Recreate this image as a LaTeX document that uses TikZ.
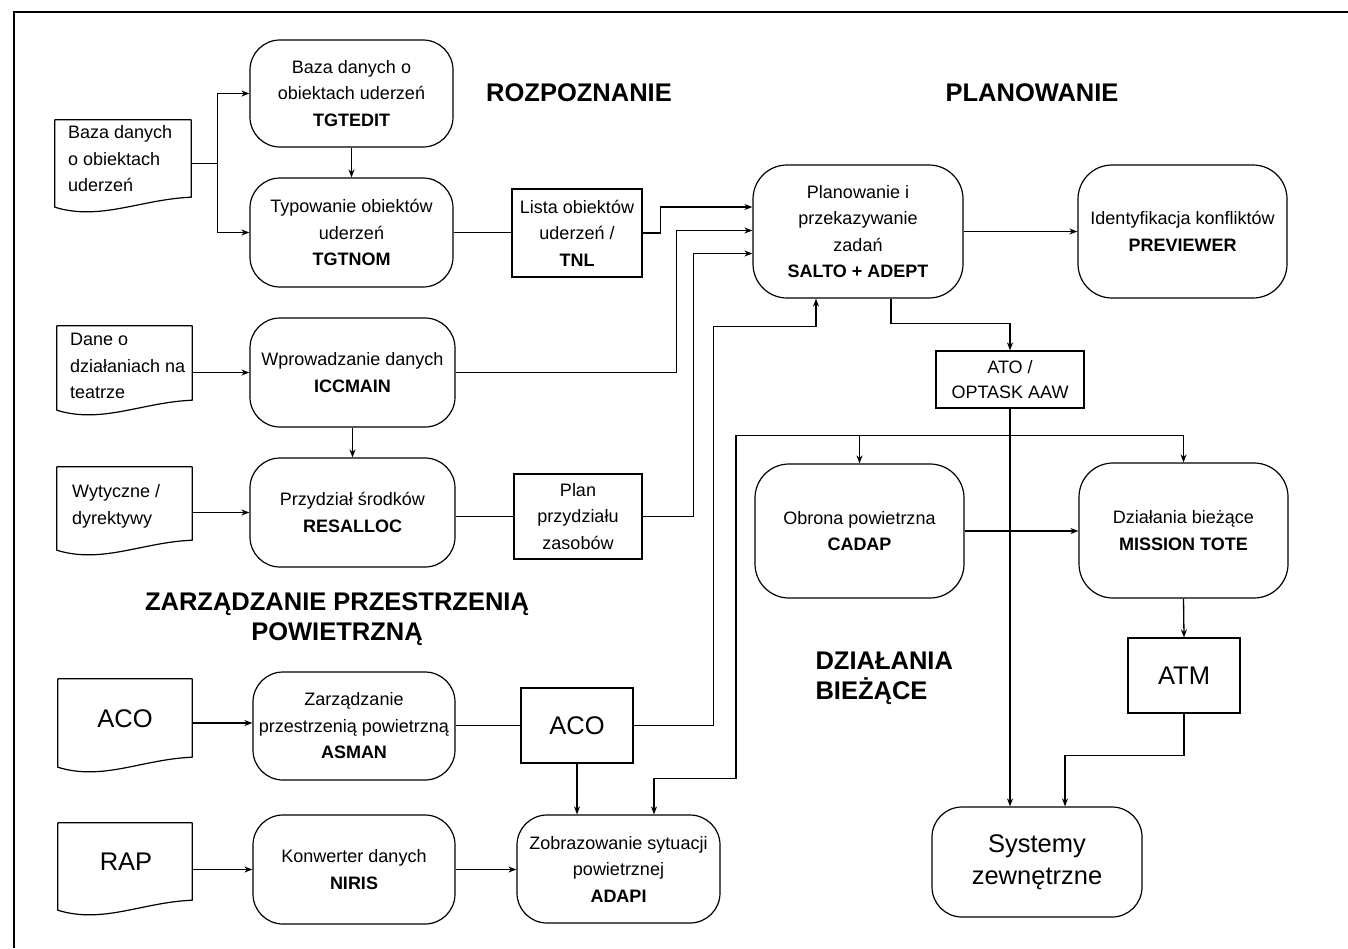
\documentclass[tikz,border=0pt]{standalone}
\usepackage{fontspec}
\setmainfont{Liberation Sans}
\usetikzlibrary{arrows.meta,calc}
\newcommand\docshape[1]{\draw[line width=1.2pt,line join=round] (#1.south west) -- (#1.north west) -- (#1.north east) -- ($(#1.south east)+(0,-10)$) .. controls +(-50,2) and +(45,14) .. (#1.south west) -- cycle;}
\begin{document}
\begin{tikzpicture}[x=1pt,y=-1pt,
  every node/.style={font=\fontsize{18}{26.5}\selectfont},
  rbox/.style={draw, line width=1.2pt, rounded corners=30pt, align=center, inner sep=0pt},
  sbox/.style={draw, line width=1.2pt, align=center, inner sep=0pt},
  docbox/.style={inner sep=0pt},
  doctext/.style={align=left, anchor=west, inner sep=0pt},
  conn/.style={line width=1.3pt},
  arr/.style={conn, -{Stealth[length=8pt,width=6pt]}},
  title/.style={font=\fontsize{25.5}{30}\selectfont\bfseries},
  big/.style={font=\fontsize{25.5}{32}\selectfont}]
\useasboundingbox (0,0) rectangle (1348,948);
\draw[line width=2.5pt] (14,948) -- (14,12) -- (1348,12);

% titles
\node[title] (t1) at (579,93) {ROZPOZNANIE};
\node[title] (t2) at (1032,93) {PLANOWANIE};
\node[title, align=center] (t3) at (337,619) {ZARZĄDZANIE PRZESTRZENIĄ\\POWIETRZNĄ};
\node[title, align=left, anchor=west] (t4) at (812,678) {DZIAŁANIA\\BIEŻĄCE};

% document shapes
\node[docbox, minimum width=136, minimum height=87] (d1) at (123,163.5) {};
\node[doctext] (d1t) at (68,159) {Baza danych\\o obiektach\\uderzeń};
\node[docbox, minimum width=135, minimum height=84] (d2) at (124.5,368) {};
\node[doctext] (d2t) at (70,366) {Dane o\\działaniach na\\teatrze};
\node[docbox, minimum width=135, minimum height=83] (d3) at (124.5,508.5) {};
\node[doctext] (d3t) at (72,506.5) {Wytyczne /\\dyrektywy};
\node[docbox, minimum width=134, minimum height=88] (d4) at (125,723) {};
\node[big] (d4t) at (125,719) {ACO};
\node[docbox, minimum width=134, minimum height=87] (d5) at (125,866.5) {};
\node[big] (d5t) at (126,862) {RAP};
\docshape{d1}
\docshape{d2}
\docshape{d3}
\docshape{d4}
\docshape{d5}

% rounded boxes
\node[rbox, minimum width=203, minimum height=107] (r1) at (351.5,93.5) {Baza danych o\\obiektach uderzeń\\\textbf{TGTEDIT}};
\node[rbox, minimum width=203, minimum height=109] (r2) at (351.5,232.5) {Typowanie obiektów\\uderzeń\\\textbf{TGTNOM}};
\node[rbox, minimum width=205, minimum height=109] (r3) at (352.5,372.5) {Wprowadzanie danych\\\textbf{ICCMAIN}};
\node[rbox, minimum width=205, minimum height=109] (r4) at (352.5,512.5) {Przydział środków\\\textbf{RESALLOC}};
\node[rbox, minimum width=202, minimum height=108] (r5) at (354,726) {Zarządzanie\\przestrzenią powietrzną\\\textbf{ASMAN}};
\node[rbox, minimum width=202, minimum height=109] (r6) at (354,869.5) {Konwerter danych\\\textbf{NIRIS}};
\node[rbox, minimum width=203, minimum height=108] (r7) at (618.5,869) {Zobrazowanie sytuacji\\powietrznej\\\textbf{ADAPI}};
\node[rbox, rounded corners=34pt, minimum width=210, minimum height=133] (r8) at (858,231.5) {Planowanie i\\przekazywanie\\zadań\\\textbf{SALTO + ADEPT}};
\node[rbox, rounded corners=34pt, minimum width=209, minimum height=133] (r9) at (1182.5,231.5) {Identyfikacja konfliktów\\\textbf{PREVIEWER}};
\node[rbox, rounded corners=34pt, minimum width=209, minimum height=134] (r10) at (859.5,531) {Obrona powietrzna\\\textbf{CADAP}};
\node[rbox, rounded corners=34pt, minimum width=209, minimum height=135] (r11) at (1183.5,530.5) {Działania bieżące\\\textbf{MISSION TOTE}};
\node[rbox, big, minimum width=210, minimum height=110] (r12) at (1037,862) {Systemy\\zewnętrzne};

% square boxes
\node[sbox, minimum width=130, minimum height=88] (b1) at (577,233) {Lista obiektów\\uderzeń /\\\textbf{TNL}};
\node[sbox, minimum width=128, minimum height=85] (b2) at (578,516.5) {Plan\\przydziału\\zasobów};
\node[sbox, big, minimum width=112, minimum height=75] (b3) at (577,725.5) {ACO};
\node[sbox, minimum width=148, minimum height=57, font=\fontsize{18}{25}\selectfont] (b4) at (1010,379.5) {ATO /\\OPTASK AAW};
\node[sbox, big, minimum width=112, minimum height=75] (b5) at (1184,675.5) {ATM};

% connectors
\draw[conn] (d1.east) -- ++(26,0) coordinate (j1);
\draw[arr] (j1) |- (r1.west);
\draw[arr] (j1) |- (r2.west);
\draw[arr] (r1) -- (r2);
\draw[conn] (r2.east) -- (r2.east -| b1.west);
\draw[arr] (b1.east) -- ++(18,0) |- ($(r8.west)+(0,-24.5)$);
\draw[arr] (r3.east) -- ++(221,0) |- ($(r8.west)+(0,-1)$);
\draw[arr] (b2.east) -- ++(51,0) |- ($(r8.west)+(0,22)$);
\draw[arr] (b3.east) -- ++(80,0) |- ($(r8.south)+(-42,28)$) -- ($(r8.south)+(-42,0)$);
\draw[arr] ($(r8.south)+(33,0)$) -- ++(0,25) -| (b4.north);
\draw[arr] (r8.east) -- (r9.west);
\draw[arr] (b4.south) -- (b4.south |- r12.north);
\coordinate (j2) at ($(b4.south)+(0,27)$);
\draw[arr] (j2) -| (r11.north);
\draw[arr] (j2) -- ++(-274,0) -- ++(0,343) -| ($(r7.north)+(35.5,0)$);
\draw[arr] (r10.north |- j2) -- (r10.north);
\draw[arr] (r10.east) -- (r10.east -| r11.west);
\draw[arr] (r11.south) -- (b5.north);
\draw[arr] (b5.south) -- ++(0,42) -| ($(r12.north)+(28,0)$);
\draw[arr] (r3.west -| d2.east) -- (r3.west);
\draw[arr] (r3) -- (r4);
\draw[arr] (r4.west -| d3.east) -- (r4.west);
\draw[conn] (b2.west -| r4.east) -- (b2.west);
\draw[arr] (d4.east) -- (d4.east -| r5.west);
\draw[conn] (b3.west -| r5.east) -- (b3.west);
\draw[arr] (b3.south) -- (b3.south |- r7.north);
\draw[arr] (r6.west -| d5.east) -- (r6.west);
\draw[arr] (r6.east) -- (r6.east -| r7.west);
\end{tikzpicture}
\end{document}
